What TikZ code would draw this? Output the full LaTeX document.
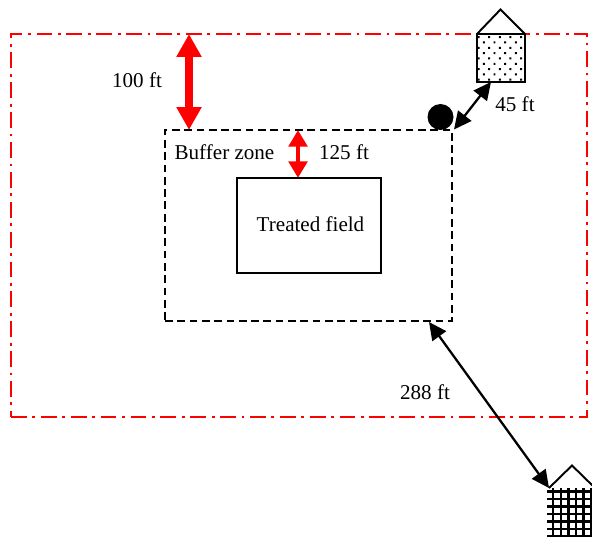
\documentclass[tikz,border=0pt]{standalone}
\usepackage{fontspec}
\setmainfont{Liberation Serif}
\usetikzlibrary{arrows.meta,patterns.meta}
\tikzset{
  zone/.style={draw,rectangle,outer sep=0pt,inner sep=0pt},
  bigred/.style={red,line width=4.4pt,{Triangle[length=13pt,width=13.5pt]}-{Triangle[length=13pt,width=13.5pt]}},
  midred/.style={red,line width=2.8pt,{Triangle[length=9.5pt,width=10.5pt]}-{Triangle[length=9.5pt,width=10.5pt]}},
  blackarrow/.style={black,line width=1.3pt,{Triangle[length=10pt,width=9.5pt]}-{Triangle[length=10pt,width=9.5pt]}},
  house/.style={draw=black,line width=1.1pt,line join=miter}
}
\begin{document}
\begin{tikzpicture}[x=0.02cm,y=-0.02cm,every node/.style={font=\fontsize{12}{14}\selectfont}]
\clip (0,0) rectangle (592,537);
% zones
\node[zone,red,line width=1.1pt,dash pattern=on 9pt off 3.2pt on 1.6pt off 3.2pt,minimum width=11.52cm,minimum height=7.66cm] (outer) at (299,225.5) {};
\node[zone,line width=0.85pt,dash pattern=on 4.4pt off 2.6pt,minimum width=5.74cm,minimum height=3.82cm] (buffer) at (308.5,225.5) {};
\node[zone,line width=0.85pt,minimum width=2.88cm,minimum height=1.9cm] (field) at (309,225.5) {};
\node at (310.5,224) {Treated field};
\node (bufferlabel) at (224.5,152) {Buffer zone};
% well
\fill[black] (440.5,117) circle (13);
% top building
\fill[pattern={Dots[radius=0.8pt,distance=4.28pt,angle=45]},pattern color=black] (477,34) rectangle (525,82);
\draw[house] (477,34) rectangle (525,82);
\draw[house] (477,34) -- (500.5,9.5) -- (525,34);
% bottom building
\draw[house] (549,488) -- (572,465.5) -- (594,487);
\foreach \x in {553,561,568.5,576,583.5,591} \draw[line width=1.5pt] (\x,488) -- (\x,540);
\foreach \y in {491.5,499,506.5,514,521.5,529,536.5} \draw[line width=1.5pt] (547,\y) -- (594,\y);
% distances
\coordinate (outertop) at (189,34);
\coordinate (buffertop) at (189,130);
\coordinate (bufferin) at (298,130);
\coordinate (fieldtop) at (298,178);
\coordinate (wellend) at (454,129.5);
\coordinate (housetop) at (491,82);
\coordinate (bufferlow) at (429,322);
\coordinate (housebot) at (549,488);
\draw[bigred] (outertop) -- (buffertop);
\draw[midred] (bufferin) -- (fieldtop);
\draw[blackarrow] (wellend) -- (housetop);
\draw[blackarrow] (bufferlow) -- (housebot);
\node (d100) at (137,80) {100 ft};
\node (d125) at (344,152) {125 ft};
\node (d45) at (515,104) {45 ft};
\node (d288) at (425,392) {288 ft};
\end{tikzpicture}
\end{document}
